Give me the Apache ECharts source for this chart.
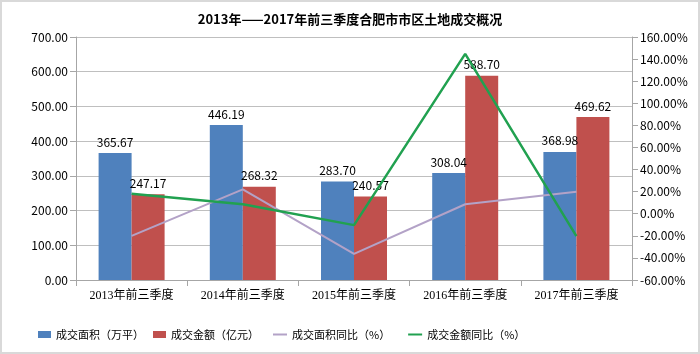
<!DOCTYPE html>
<html>
<head>
<meta charset="utf-8">
<script src="https://cdn.jsdelivr.net/npm/echarts@6/dist/echarts.min.js"></script>
<style>
html,body{margin:0;padding:0;background:#fff;}
#main{width:696px;height:350px;border:2px solid #d9d9d9;}
</style>
</head>
<body>
<div id="main"></div>
<script>
var years = ['2013年前三季度', '2014年前三季度', '2015年前三季度', '2016年前三季度', '2017年前三季度'];
var area = [365.67, 446.19, 283.70, 308.04, 368.98];
var amount = [247.17, 268.32, 240.57, 588.70, 469.62];
var areaYoy = [-20.0, 22.0, -36.4, 8.6, 19.8];
var amountYoy = [18.0, 8.6, -10.3, 144.7, -20.2];

var myChart = echarts.init(document.getElementById('main'));
var txt = '#000';
var option = {
    animation: false,
    textStyle: {fontFamily: 'Noto Sans CJK SC, sans-serif'},
    title: {
        text: '2013年——2017年前三季度合肥市市区土地成交概况',
        left: 'center', top: 6,
        textStyle: {fontSize: 13, fontWeight: 'bold', color: txt}
    },
    legend: [{
        bottom: 7, left: 31,
        itemWidth: 13, itemHeight: 7, itemGap: 9,
        textStyle: {fontSize: 11, color: txt},
        icon: 'rect',
        data: ['成交面积（万平）', '成交金额（亿元）']
    }, {
        bottom: 7, left: 266,
        itemWidth: 14, itemHeight: 2, itemGap: 18,
        textStyle: {fontSize: 11, color: txt},
        icon: 'rect',
        data: ['成交面积同比（%）', '成交金额同比（%）']
    }],
    grid: {left: 74, right: 66, top: 35, bottom: 72},
    xAxis: {
        type: 'category', data: years,
        axisLine: {lineStyle: {color: '#a6a6a6'}},
        axisTick: {show: true, length: 6, lineStyle: {color: '#a6a6a6'}},
        axisLabel: {color: txt, fontSize: 12, margin: 10, fontFamily: 'Liberation Serif, Noto Sans CJK SC'}
    },
    yAxis: [{
        type: 'value', min: 0, max: 700, interval: 100,
        axisLine: {show: true, lineStyle: {color: '#a6a6a6'}},
        axisTick: {show: true, length: 6, lineStyle: {color: '#a6a6a6'}},
        splitLine: {lineStyle: {color: '#bfbfbf'}},
        axisLabel: {color: txt, fontSize: 12, formatter: function (v) { return v.toFixed(2); }}
    }, {
        type: 'value', min: -60, max: 160, interval: 20,
        axisLine: {show: true, lineStyle: {color: '#a6a6a6'}},
        axisTick: {show: true, length: 6, lineStyle: {color: '#a6a6a6'}},
        splitLine: {show: false},
        axisLabel: {color: txt, fontSize: 12, formatter: function (v) { return v.toFixed(2) + '%'; }}
    }],
    series: [{
        name: '成交面积（万平）', type: 'bar', data: area,
        barWidth: 33, barGap: '0%',
        itemStyle: {color: '#4f81bd'},
        label: {show: true, position: 'top', color: txt, fontSize: 12, formatter: function (p) { return p.value.toFixed(2); }}
    }, {
        name: '成交金额（亿元）', type: 'bar', data: amount,
        barWidth: 33,
        itemStyle: {color: '#c0504d'},
        label: {show: true, position: 'top', color: txt, fontSize: 12, formatter: function (p) { return p.value.toFixed(2); }}
    }, {
        name: '成交面积同比（%）', type: 'line', yAxisIndex: 1, data: areaYoy,
        symbol: 'none', lineStyle: {color: '#b3a2c7', width: 2}, itemStyle: {color: '#b3a2c7'}
    }, {
        name: '成交金额同比（%）', type: 'line', yAxisIndex: 1, data: amountYoy,
        symbol: 'none', lineStyle: {color: '#21a150', width: 2.5}, itemStyle: {color: '#21a150'}
    }]
};
myChart.setOption(option);
</script>
</body>
</html>
